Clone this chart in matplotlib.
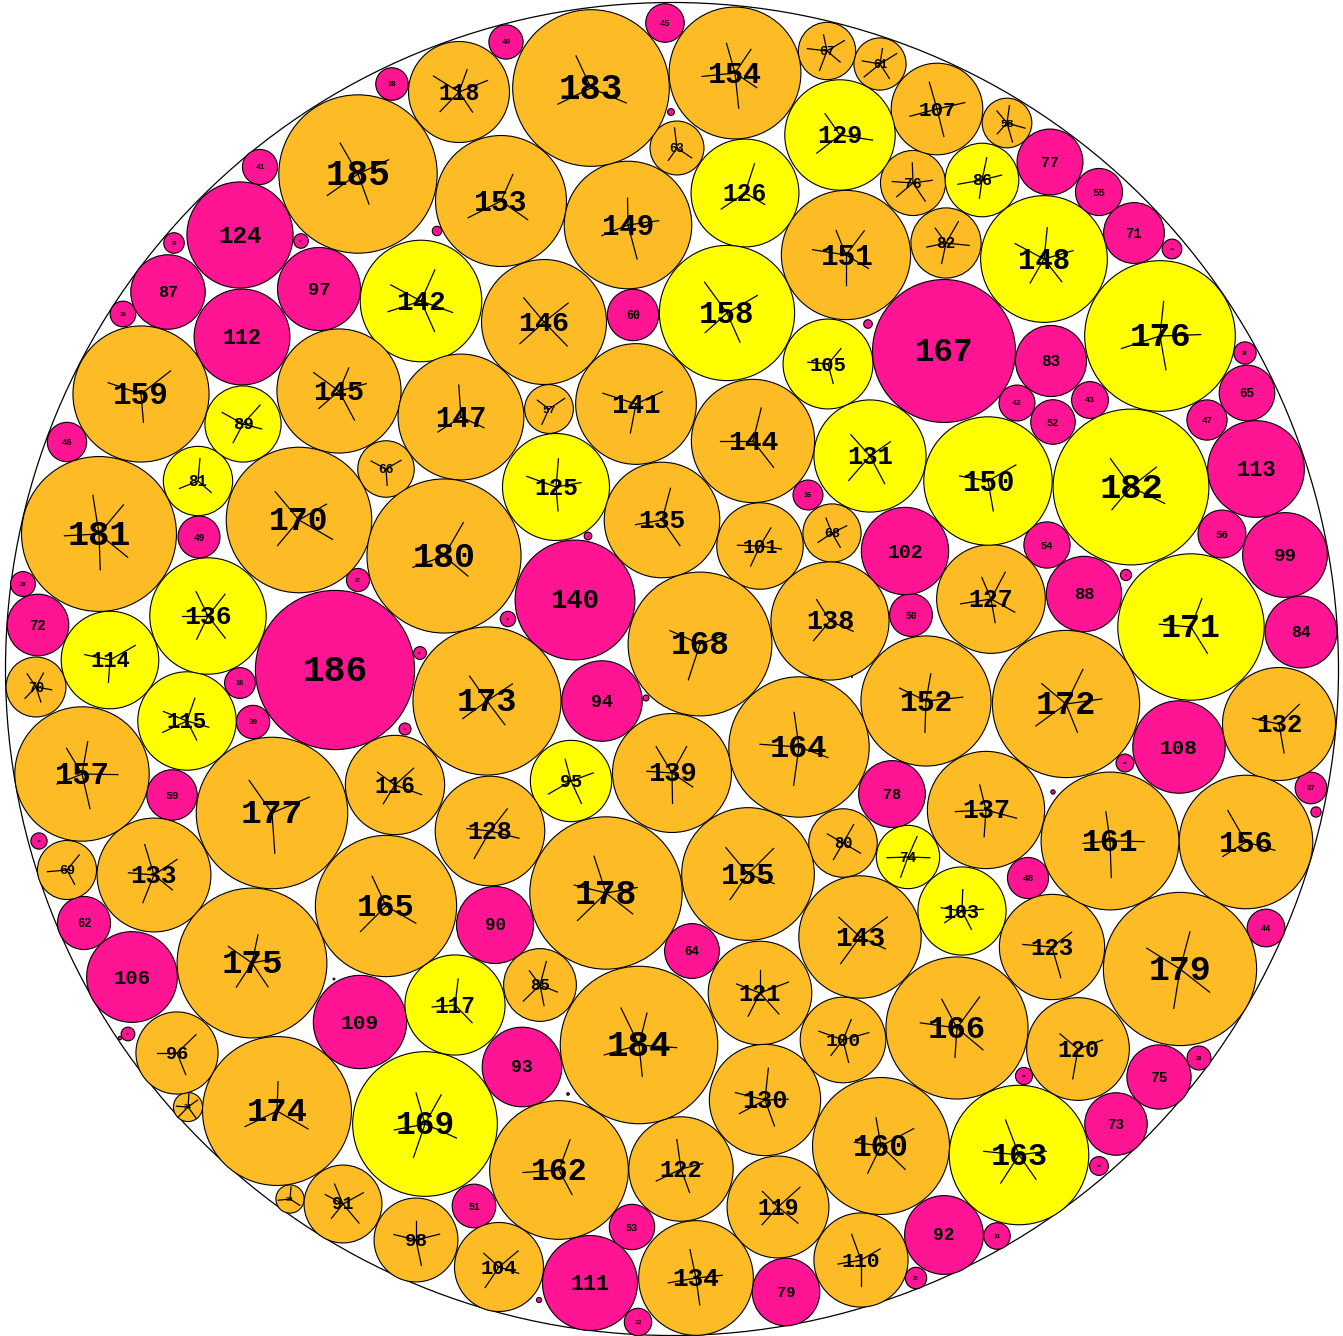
import numpy as np
import matplotlib.pyplot as plt
from matplotlib.patches import Circle

# packed circles, one per value 1..186 (list index + 1 = value)
# centre positions (pixels, y down)
cx = [852, 334, 568, 120, 1053, 539, 646, 671, 588, 868,
      437, 1316, 1126, 405, 420, 128, 301, 508, 39, 1024,
      1125, 1099, 1172, 174, 916, 1245, 358, 1199, 23, 123,
      997, 638, 290, 188, 808, 240, 1311, 392, 253, 506,
      260, 1017, 1090, 1266, 665, 67, 1207, 1028, 199, 911,
      474, 1053, 632, 1047, 1099, 1222, 549, 1007, 172, 633,
      880, 84, 677, 692, 1247, 386, 827, 832, 67, 36,
      1134, 38, 1116, 908, 1159, 913, 1050, 892, 786, 843,
      198, 946, 1051, 1301, 540, 982, 168, 1084, 243, 495,
      343, 944, 522, 602, 571, 177, 319, 416, 1285, 843,
      760, 905, 962, 499, 828, 132, 937, 1179, 360, 861,
      590, 242, 1256, 110, 187, 395, 455, 459, 778, 1078,
      760, 681, 1052, 240, 556, 745, 991, 490, 840, 765,
      870, 1279, 154, 696, 662, 208, 986, 830, 672, 575,
      636, 421, 860, 753, 339, 544, 461, 1044, 628, 988,
      846, 926, 501, 735, 748, 1246, 82, 727, 141, 881,
      1110, 559, 1019, 799, 386, 957, 944, 700, 425, 299,
      1191, 1066, 487, 277, 252, 1160, 272, 606, 1180, 444,
      99, 1131, 591, 639, 358, 335]
cy = [677, 979, 1094, 1038, 792, 1300, 698, 112, 536, 324,
      231, 812, 575, 729, 653, 1034, 241, 619, 841, 1076,
      763, 1166, 249, 243, 1278, 353, 580, 1058, 584, 314,
      1236, 1322, 1199, 1107, 495, 683, 788, 84, 722, 42,
      167, 403, 400, 928, 23, 442, 420, 878, 537, 615,
      1206, 422, 1227, 545, 192, 534, 409, 123, 795, 315,
      64, 923, 148, 951, 393, 469, 51, 533, 870, 687,
      233, 625, 1124, 857, 1077, 183, 162, 794, 1292, 843,
      481, 243, 361, 632, 985, 180, 292, 594, 424, 925,
      1204, 1235, 1067, 701, 781, 1053, 289, 1240, 555, 1040,
      546, 551, 911, 1267, 364, 977, 109, 747, 1022, 1260,
      1283, 337, 469, 660, 721, 785, 1005, 92, 1207, 1049,
      993, 1169, 947, 235, 487, 193, 599, 831, 135, 1100,
      456, 724, 875, 1278, 520, 616, 810, 621, 773, 600,
      404, 301, 937, 441, 391, 322, 417, 259, 225, 481,
      255, 701, 201, 73, 874, 842, 774, 313, 394, 1146,
      841, 1170, 1155, 747, 906, 1028, 351, 644, 1124, 520,
      627, 704, 701, 1111, 963, 336, 813, 893, 969, 556,
      534, 487, 88, 1045, 174, 670]

yellow = [74, 81, 86, 89, 95, 103, 105, 114, 115, 117, 125, 126, 129, 131,
          136, 142, 148, 150, 158, 163, 169, 171, 176, 182]
pink = list(range(1, 33)) + list(range(35, 57)) + [
    59, 60, 62, 64, 65, 71, 72, 73, 75, 77, 78, 79, 83, 84, 87, 88, 90, 92,
    93, 94, 97, 99, 102, 106, 108, 109, 111, 112, 113, 124, 140, 167, 186]

ORANGE = '#FDBC25'
YELLOW = '#FFFF00'
PINK = '#FF1493'
k = 0.428          # radius in px per unit of value
outer = (672, 669, 666.5)

fig = plt.figure(figsize=(13.43, 13.36), dpi=100)
ax = fig.add_axes([0, 0, 1, 1])
ax.set_xlim(0, 1343)
ax.set_ylim(1336, 0)
ax.axis('off')

ax.add_patch(Circle(outer[:2], outer[2], fill=False, ec='black', lw=0.9))

for i, (x, y) in enumerate(zip(cx, cy)):
    v = i + 1
    r = k * v
    if v in pink:
        fc = PINK
    elif v in yellow:
        fc = YELLOW
    else:
        fc = ORANGE
    ax.add_patch(Circle((x, y), r, fc=fc, ec='black', lw=0.8, zorder=2))
    if fc != PINK:
        # little star of strokes inside each non-pink circle
        n = 3 + (v * 5) % 3
        base = (v * 67) % 360
        for j in range(n):
            ang = np.radians(base + j * 360 / n + ((v * (j + 2) * 37) % 40 - 20))
            L = (9 + 0.36 * r) * (0.8 + ((v * (j + 3) * 17) % 35) / 100)
            ax.plot([x, x + L * np.cos(ang)], [y, y + L * np.sin(ang)],
                    color='black', lw=0.9, zorder=3)
    if r > 2:
        ax.text(x, y + 0.025 * r, str(v), ha='center', va='center',
                fontsize=0.455 * r * 0.72, fontfamily='Liberation Mono',
                fontweight='bold', color='black', zorder=4)

fig.savefig('out.png', dpi=100)
